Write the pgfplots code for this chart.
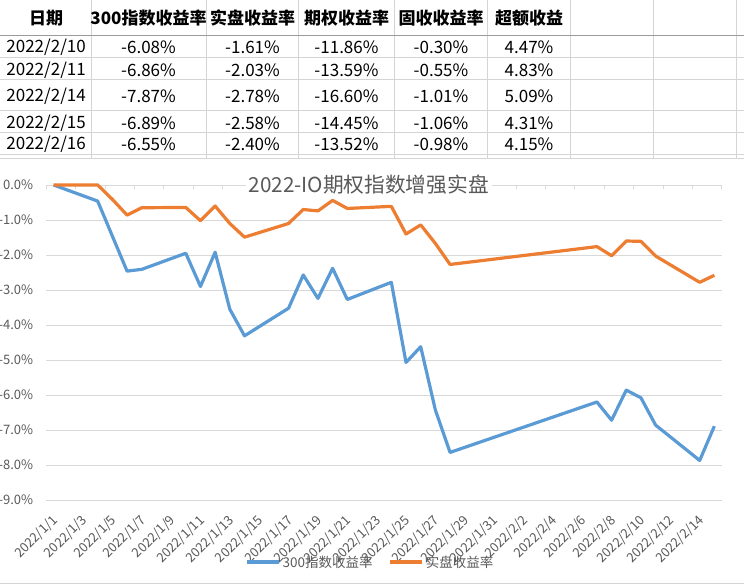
\documentclass[border=0pt]{standalone}
\usepackage{fontspec}
\setmainfont{Noto Sans CJK SC}
\usepackage{pgfplots}
\pgfplotsset{compat=1.18}
\definecolor{sblue}{HTML}{5B9BD5}
\definecolor{sorange}{HTML}{ED7D31}
\definecolor{txtgray}{HTML}{595959}
\definecolor{gridgray}{HTML}{D9D9D9}
\definecolor{cellline}{HTML}{D4D4D4}
\definecolor{hdrline}{HTML}{9B9B9B}
\tikzset{tfont/.style={font=\fontsize{17}{20}\selectfont, inner sep=0pt, text=black},
         hfont/.style={font=\fontsize{17}{20}\selectfont\bfseries, inner sep=0pt, text=black}}
\newcommand{\trow}[7]{%
  \node[tfont, anchor=east] at (86,-#1) {#2};
  \node[tfont] at (148.5,-#1) {#3\%};
  \node[tfont] at (252.5,-#1) {#4\%};
  \node[tfont] at (346.5,-#1) {#5\%};
  \node[tfont] at (441,-#1) {#6\%};
  \node[tfont] at (529,-#1) {#7\%};
}
\begin{document}
\begin{tikzpicture}[x=1pt,y=1pt]
\path[use as bounding box] (0,0) rectangle (744,-585);
% spreadsheet grid
\begin{scope}[cellline, line width=0.9pt]
\foreach \yy in {57.3,79.3,110.3,132.3,154.3,158.3} \draw (0,-\yy) -- (744,-\yy);
\foreach \xx in {91.3,206.5,298,394,487.5,570.3,653.7,736.3} \draw (\xx,0) -- (\xx,-158.3);
\draw (0,-583.3) -- (744,-583.3);
\end{scope}
\draw[hdrline, line width=0.9pt] (0,-35) -- (744,-35);
% header
\node[hfont] at (46,-18) {日期};
\node[hfont] at (148.5,-18) {300指数收益率};
\node[hfont] at (252.5,-18) {实盘收益率};
\node[hfont] at (346.5,-18) {期权收益率};
\node[hfont] at (441,-18) {固收收益率};
\node[hfont] at (529,-18) {超额收益};
% rows
\trow{47.5}{2022/2/10}{-6.08}{-1.61}{-11.86}{-0.30}{4.47}
\trow{70.5}{2022/2/11}{-6.86}{-2.03}{-13.59}{-0.55}{4.83}
\trow{96.5}{2022/2/14}{-7.87}{-2.78}{-16.60}{-1.01}{5.09}
\trow{123.5}{2022/2/15}{-6.89}{-2.58}{-14.45}{-1.06}{4.31}
\trow{144}{2022/2/16}{-6.55}{-2.40}{-13.52}{-0.98}{4.15}
% chart
\begin{axis}[
  at={(46.3pt,-500pt)}, anchor=south west, scale only axis,
  width=675.4pt, height=315pt,
  xmin=-0.5, xmax=45.5, ymin=-9, ymax=0,
  clip=false,
  axis line style={draw=none},
  ytick={-9,-8,...,0},
  yticklabels={-9.0\%,-8.0\%,-7.0\%,-6.0\%,-5.0\%,-4.0\%,-3.0\%,-2.0\%,-1.0\%,0.0\%},
  ymajorgrids,
  major grid style={gridgray, line width=0.9pt},
  ytick style={draw=none},
  xtick={0,2,...,44},
  xticklabels={2022/1/1,2022/1/3,2022/1/5,2022/1/7,2022/1/9,2022/1/11,2022/1/13,2022/1/15,2022/1/17,2022/1/19,2022/1/21,2022/1/23,2022/1/25,2022/1/27,2022/1/29,2022/1/31,2022/2/2,2022/2/4,2022/2/6,2022/2/8,2022/2/10,2022/2/12,2022/2/14},
  xtick pos=right, xticklabel pos=left,
  major x tick style={draw=none},
  extra x ticks={-0.5,1.5,...,45.5},
  extra x tick labels={},
  extra x tick style={major x tick style={draw=gridgray, line width=0.9pt}, major tick length=4pt, tick align=inside},
  tick label style={font=\fontsize{13}{15}\selectfont, text=txtgray},
  yticklabel style={inner sep=0pt, xshift=-13pt, anchor=east},
  xticklabel style={inner sep=0pt, xshift=2pt, yshift=-18pt, rotate=45, anchor=east},
  legend columns=2,
  legend style={draw=none, fill=none, at={(0.48,-0.197)}, anchor=center,
    font=\fontsize{13.5}{15}\selectfont, text=txtgray,
    /tikz/every even column/.append style={column sep=14pt}},
  legend image code/.code={\draw[#1, line width=3.2pt] (0pt,0pt) -- (32pt,0pt);},
]
\addplot[sblue, line width=3.2pt, line join=round] coordinates {
(0,0) (3,-0.46) (4,-1.46) (5,-2.46) (6,-2.41) (9,-1.95) (10,-2.90) (11,-1.92)
(12,-3.55) (13,-4.31) (16,-3.52) (17,-2.57) (18,-3.24) (19,-2.38) (20,-3.27)
(23,-2.78) (24,-5.07) (25,-4.62) (26,-6.43) (27,-7.64) (37,-6.20) (38,-6.72)
(39,-5.86) (40,-6.08) (41,-6.86) (44,-7.87) (45,-6.89)};
\addlegendentry{300指数收益率}
\addplot[sorange, line width=3.2pt, line join=round] coordinates {
(0,0) (3,0) (4,-0.41) (5,-0.86) (6,-0.65) (9,-0.64) (10,-1.02) (11,-0.60)
(12,-1.10) (13,-1.49) (16,-1.10) (17,-0.70) (18,-0.74) (19,-0.44) (20,-0.67)
(23,-0.61) (24,-1.40) (25,-1.14) (26,-1.67) (27,-2.27) (37,-1.76) (38,-2.02)
(39,-1.60) (40,-1.61) (41,-2.03) (44,-2.78) (45,-2.58)};
\addlegendentry{实盘收益率}
\end{axis}
\node[fill=white, inner xsep=3pt, inner ysep=0pt, text=txtgray, font=\fontsize{20.7}{24}\selectfont] at (368.7,-185) {2022-IO期权指数增强实盘};
\end{tikzpicture}
\end{document}
